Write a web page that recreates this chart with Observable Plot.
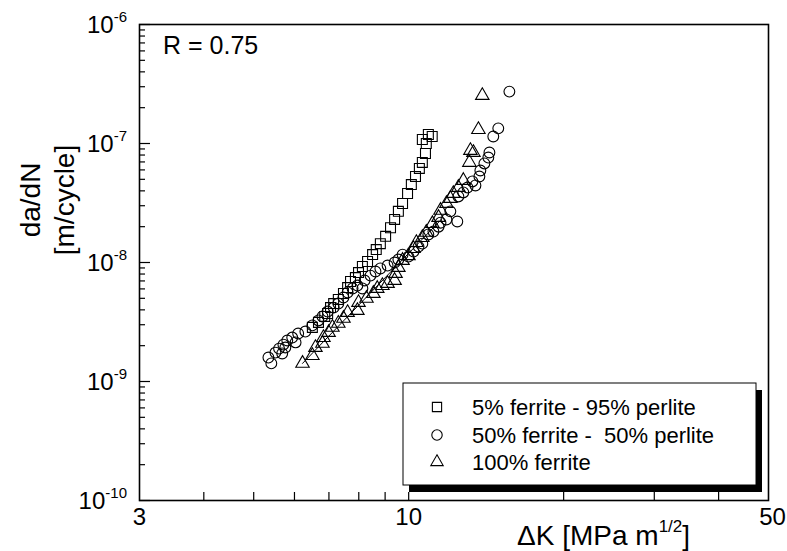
<!DOCTYPE html>
<html><head><meta charset="utf-8">
<script src="https://cdn.jsdelivr.net/npm/d3@7"></script>
<script src="https://cdn.jsdelivr.net/npm/@observablehq/plot@0.6"></script>
<style>body{margin:0;background:#fff}svg text{white-space:pre}</style>
</head><body><div id="chart"></div>
<script>
// ---- data (ΔK in MPa·m^1/2, da/dN in m/cycle) ----
const squareK = [6.50, 6.68, 6.87, 6.96, 7.05, 7.15, 7.30, 7.47, 7.61, 7.71, 7.88, 7.99, 8.13, 8.32, 8.51, 8.65, 8.81, 9.02, 9.22, 9.39, 9.55, 9.73, 9.95, 10.12, 10.31, 10.49, 10.63, 10.78, 10.82, 10.63, 10.92, 11.11];
const squareRate = [2.85e-9, 3.14e-9, 3.52e-9, 3.73e-9, 4.18e-9, 4.52e-9, 4.89e-9, 5.49e-9, 6.16e-9, 6.92e-9, 7.47e-9, 8.23e-9, 9.26e-9, 1.02e-8, 1.165e-8, 1.285e-8, 1.44e-8, 1.66e-8, 1.96e-8, 2.30e-8, 2.69e-8, 3.13e-8, 3.80e-8, 4.52e-8, 5.28e-8, 6.17e-8, 6.93e-8, 8.24e-8, 1.00e-7, 1.08e-7, 1.19e-7, 1.145e-7];

const circleK = [5.34, 5.41, 5.51, 5.60, 5.71, 5.68, 5.81, 5.76, 5.94, 6.03, 6.10, 6.30, 6.50, 6.68, 6.80, 6.96, 7.15, 7.30, 7.47, 7.61, 7.78, 7.95, 8.13, 8.21, 8.43, 8.62, 8.81, 9.10, 9.39, 9.55, 9.73, 9.99, 10.22, 10.45, 10.63, 10.92, 11.17, 11.43, 11.53, 11.84, 12.05, 12.43, 12.49, 12.77, 13.01, 13.30, 13.48, 13.72, 13.78, 14.03, 14.28, 14.35, 14.60, 14.93, 15.69];
const circleRate = [1.59e-9, 1.42e-9, 1.75e-9, 1.89e-9, 2.04e-9, 1.72e-9, 2.21e-9, 1.93e-9, 2.34e-9, 2.13e-9, 2.53e-9, 2.63e-9, 2.96e-9, 3.26e-9, 3.52e-9, 3.87e-9, 4.18e-9, 4.52e-9, 5.08e-9, 5.60e-9, 6.05e-9, 6.40e-9, 6.05e-9, 7.06e-9, 7.76e-9, 8.40e-9, 8.91e-9, 9.43e-9, 1.00e-8, 1.06e-8, 1.165e-8, 1.12e-8, 1.235e-8, 1.36e-8, 1.44e-8, 1.72e-8, 1.82e-8, 2.00e-8, 2.16e-8, 2.30e-8, 2.69e-8, 2.21e-8, 3.59e-8, 3.88e-8, 4.27e-8, 4.80e-8, 4.44e-8, 5.28e-8, 5.93e-8, 6.80e-8, 7.62e-8, 8.40e-8, 1.145e-7, 1.34e-7, 2.73e-7];

const triK = [6.22, 6.50, 6.59, 6.80, 6.83, 6.99, 7.11, 7.30, 7.47, 7.61, 7.95, 7.99, 8.28, 8.54, 8.69, 8.89, 9.10, 9.39, 9.43, 9.55, 9.73, 9.99, 10.22, 10.35, 10.63, 10.82, 11.12, 11.43, 11.53, 11.84, 12.05, 12.21, 12.49, 12.77, 13.12, 13.18, 13.36, 13.66, 13.90];
const triRate = [1.42e-9, 1.65e-9, 1.93e-9, 2.09e-9, 2.34e-9, 2.58e-9, 2.85e-9, 3.08e-9, 3.39e-9, 3.80e-9, 3.95e-9, 4.61e-9, 4.99e-9, 5.49e-9, 6.05e-9, 6.40e-9, 6.66e-9, 7.06e-9, 8.08e-9, 9.08e-9, 1.04e-8, 1.14e-8, 1.31e-8, 1.47e-8, 1.62e-8, 1.79e-8, 2.12e-8, 2.39e-8, 2.74e-8, 3.13e-8, 3.45e-8, 3.80e-8, 4.27e-8, 4.89e-8, 6.93e-8, 8.73e-8, 8.40e-8, 1.31e-7, 2.53e-7];

const seriesNames = ["5% ferrite - 95% perlite", "50% ferrite -  50% perlite", "100% ferrite"];
const fitMaxK = 11.6;

const xDomain = [3, 50];
const yDomain = [1e-10, 1e-6];
const xLabelTicks = [3, 10, 50];
const xMinorTicks = [4, 5, 6, 7, 8, 9, 10, 20, 30, 40];
const yMajorTicks = [1e-10, 1e-9, 1e-8, 1e-7, 1e-6];
const yExponents = ["-10", "-9", "-8", "-7", "-6"];
const yMinorTicks = [];
for (const d of [1e-10, 1e-9, 1e-8, 1e-7]) for (let m = 2; m <= 9; m++) yMinorTicks.push(d * m);

// ---- table building ----
const squares = squareK.map((k, i) => ({k, r: squareRate[i]}));
const circles = circleK.map((k, i) => ({k, r: circleRate[i]}));
const tris = triK.map((k, i) => ({k, r: triRate[i]}));

// log-log least squares fit to the ferrite data
const fitPts = tris.filter(d => d.k <= fitMaxK).map(d => [Math.log10(d.k), Math.log10(d.r)]);
const mx = d3.mean(fitPts, p => p[0]), my = d3.mean(fitPts, p => p[1]);
const slope = d3.sum(fitPts, p => (p[0] - mx) * (p[1] - my)) / d3.sum(fitPts, p => (p[0] - mx) ** 2);
const icpt = my - slope * mx;
const fitLine = [d3.min(triK), fitMaxK].map(k => ({k, r: Math.pow(10, icpt + slope * Math.log10(k))}));

const FONT = "'Liberation Sans', Arial, Helvetica, sans-serif";
const RS = 5.4, RSQ = 5.6, RT = 5.0;

const chart = Plot.plot({
  width: 787, height: 551,
  marginLeft: 139, marginRight: 19, marginTop: 24, marginBottom: 51,
  style: {fontFamily: FONT, background: "white", color: "black", overflow: "visible"},
  x: {type: "log", domain: xDomain},
  y: {type: "log", domain: yDomain},
  marks: [
    Plot.axisX({ticks: xMinorTicks, tickSize: -8, tickFormat: () => "", label: null, strokeWidth: 1.2}),
    Plot.axisX({ticks: xLabelTicks, tickSize: 0, tickPadding: 7, fontSize: 24, tickFormat: d => String(d), label: null}),
    Plot.axisY({ticks: yMinorTicks, tickSize: -6, tickFormat: () => "", label: null, strokeWidth: 1.2}),
    Plot.axisY({ticks: yMajorTicks, tickSize: -11, tickFormat: () => "", label: null, strokeWidth: 1.2}),
    Plot.line(fitLine, {x: "k", y: "r", stroke: "black", strokeWidth: 1}),
    Plot.dot(squares, {x: "k", y: "r", symbol: "square", r: RSQ, stroke: "black", fill: "none", strokeWidth: 1.1}),
    Plot.dot(circles, {x: "k", y: "r", symbol: "circle", r: RS, stroke: "black", fill: "none", strokeWidth: 1.1}),
    Plot.dot(tris, {x: "k", y: "r", symbol: "triangle", r: RT, stroke: "black", fill: "none", strokeWidth: 1.1}),
    Plot.frame({stroke: "black", strokeWidth: 1.6})
  ]
});

const svg = d3.select(chart);
const sy = chart.scale("y");

// y tick labels with superscript exponents
yMajorTicks.forEach((v, i) => {
  const t = svg.append("text").attr("x", 127).attr("y", sy.apply(v) + 8.5)
    .attr("text-anchor", "end").attr("font-size", 24).attr("fill", "black").attr("font-family", FONT);
  t.append("tspan").text("10");
  t.append("tspan").attr("font-size", 15).attr("dy", -11).text(yExponents[i]);
});

// shift the last x label slightly right, as in the original
svg.selectAll("text").filter(function() { return this.textContent === "50"; }).attr("dx", 4);

// x title
const xt = svg.append("text").attr("x", 517).attr("y", 545).attr("text-anchor", "start")
  .attr("font-size", 28).attr("font-family", FONT).attr("fill", "black");
xt.append("tspan").text("\u0394K [MPa m");
xt.append("tspan").attr("font-size", 17).attr("dy", -13).text("1/2");
xt.append("tspan").attr("dy", 13).text("]");

// y title
const yt = svg.append("g").attr("transform", "translate(40,200) rotate(-90)")
  .attr("font-size", 28).attr("font-family", FONT).attr("fill", "black").attr("text-anchor", "middle");
yt.append("text").text("da/dN");
yt.append("text").attr("y", 34).text("[m/cycle]");

// annotation
svg.append("text").attr("x", 163).attr("y", 54).attr("text-anchor", "start")
  .attr("font-size", 25).attr("font-family", FONT).attr("fill", "black").text("R = 0.75");

// legend
const lg = svg.append("g");
lg.append("rect").attr("x", 409).attr("y", 390).attr("width", 353).attr("height", 102).attr("fill", "black");
lg.append("rect").attr("x", 403).attr("y", 383).attr("width", 353).attr("height", 102).attr("fill", "white").attr("stroke", "black").attr("stroke-width", 1);
const symTypes = [d3.symbolSquare, d3.symbolCircle, d3.symbolTriangle];
const symR = [5.2, 5.2, 4.6];
const rowY = [407, 435, 462];
seriesNames.forEach((name, i) => {
  lg.append("path").attr("transform", `translate(437,${rowY[i]})`)
    .attr("d", d3.symbol(symTypes[i], Math.PI * symR[i] * symR[i])())
    .attr("fill", "none").attr("stroke", "black").attr("stroke-width", 1.1);
  lg.append("text").attr("x", 472).attr("y", rowY[i] + 8).attr("text-anchor", "start").attr("font-size", 22)
    .attr("font-family", FONT).attr("fill", "black").style("white-space", "pre").text(name);
});

document.getElementById("chart").append(chart);
</script>
</body></html>
